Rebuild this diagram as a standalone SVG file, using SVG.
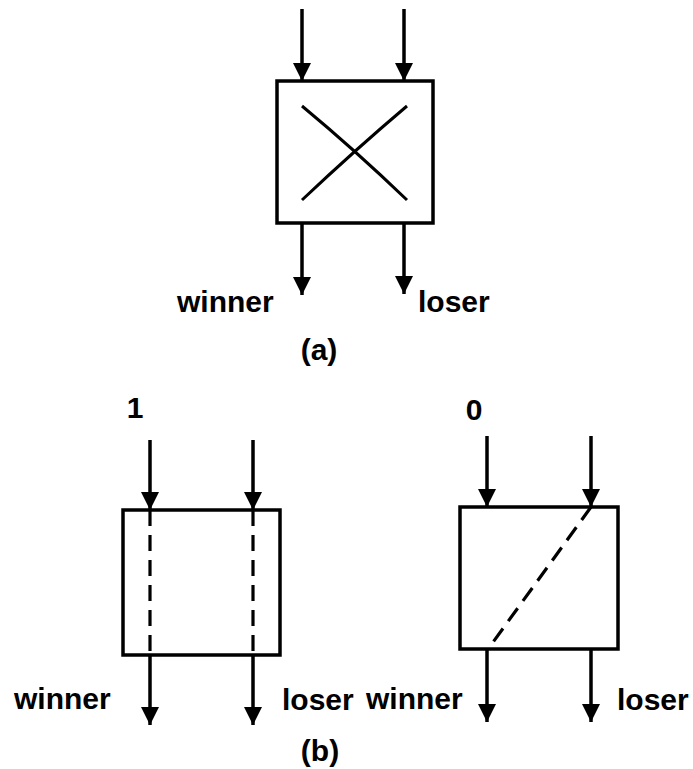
<svg xmlns="http://www.w3.org/2000/svg" width="693" height="769" viewBox="0 0 693 769">
<style>
.box{fill:none;stroke:#000;stroke-width:3.5}
.ln{fill:none;stroke:#000;stroke-width:3.5}
.dash{fill:none;stroke:#000;stroke-width:3.2;stroke-dasharray:16 9}
.cross{fill:none;stroke:#000;stroke-width:3}
text{font-family:"Liberation Sans",Arial,sans-serif;font-weight:bold;font-size:30px;fill:#000}
</style>
<defs>
<marker id="ah" viewBox="0 0 18 18" refX="18" refY="9" markerWidth="18" markerHeight="18" markerUnits="userSpaceOnUse" orient="auto">
<path d="M0,0 L18,9 L0,18 Z" fill="#000"/>
</marker>
</defs>
<rect x="0" y="0" width="693" height="769" fill="#fff"/>
<g id="node-a">
<rect class="box" x="277" y="81" width="156" height="142"/>
<path class="cross" d="M302,106 Q355,150 407,200"/>
<path class="cross" d="M407,106 Q355,150 302,200"/>
</g>
<g id="node-b1">
<rect class="box" x="123" y="510" width="157" height="145"/>
</g>
<g id="node-b2">
<rect class="box" x="460" y="507" width="158" height="142"/>
</g>
<g id="connectors">
<line class="ln" x1="302" y1="9" x2="302" y2="81" marker-end="url(#ah)"/>
<line class="ln" x1="404" y1="9" x2="404" y2="81" marker-end="url(#ah)"/>
<line class="ln" x1="302" y1="223" x2="302" y2="295" marker-end="url(#ah)"/>
<line class="ln" x1="404" y1="223" x2="404" y2="294" marker-end="url(#ah)"/>
<line class="ln" x1="150" y1="440" x2="150" y2="510" marker-end="url(#ah)"/>
<line class="ln" x1="253" y1="440" x2="253" y2="510" marker-end="url(#ah)"/>
<line class="dash" x1="150" y1="510" x2="150" y2="655"/>
<line class="dash" x1="253" y1="510" x2="253" y2="655"/>
<line class="ln" x1="150" y1="655" x2="150" y2="725" marker-end="url(#ah)"/>
<line class="ln" x1="253" y1="655" x2="253" y2="725" marker-end="url(#ah)"/>
<line class="ln" x1="487" y1="436" x2="487" y2="507" marker-end="url(#ah)"/>
<line class="ln" x1="591" y1="436" x2="591" y2="507" marker-end="url(#ah)"/>
<line class="dash" x1="591" y1="507" x2="491" y2="645"/>
<line class="ln" x1="487" y1="649" x2="487" y2="722" marker-end="url(#ah)"/>
<line class="ln" x1="591" y1="649" x2="591" y2="722" marker-end="url(#ah)"/>
</g>
<g id="labels">
<text x="177" y="312">winner</text>
<text x="418" y="312">loser</text>
<text x="319" y="360" text-anchor="middle">(a)</text>
<text x="135" y="418" text-anchor="middle" font-size="28">1</text>
<text x="474" y="420" text-anchor="middle" font-size="28">0</text>
<text x="14" y="709">winner</text>
<text x="282" y="710">loser</text>
<text x="366" y="709">winner</text>
<text x="617" y="710">loser</text>
<text x="320" y="761" text-anchor="middle">(b)</text>
</g>
</svg>
